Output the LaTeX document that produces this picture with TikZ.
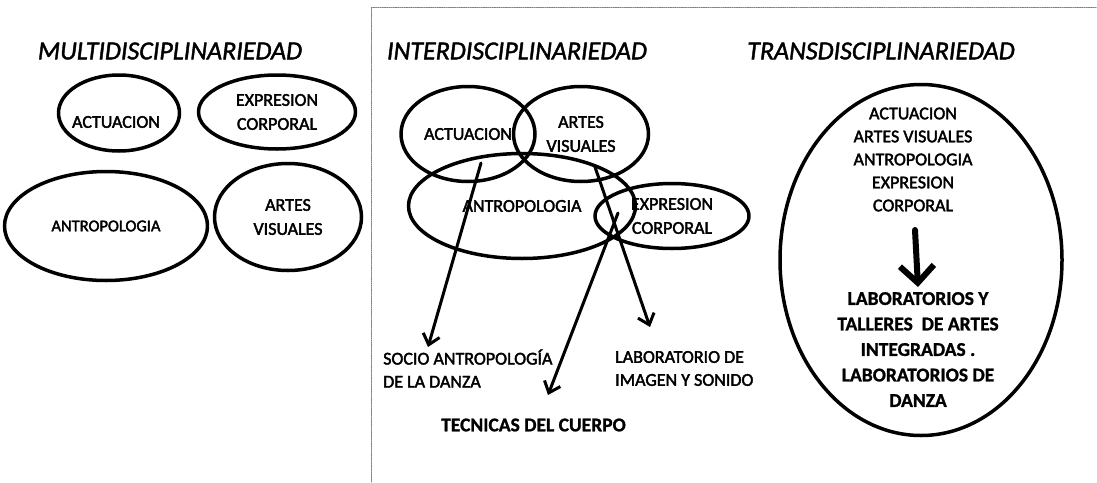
\documentclass[tikz,border=0pt]{standalone}
\usepackage{fontspec}
\setmainfont{Carlito}
\newfontfamily\semifont{Carlito}[FakeBold=2.2]
\newfontfamily\heavyfont{Carlito}[UprightFont=*-Bold,FakeBold=1.2]
\newfontfamily\titlefont{Carlito}[FakeBold=1.6,UprightFont=*-Italic]
\usetikzlibrary{shapes.geometric,arrows.meta}

\tikzset{
  ring/.style={draw,ellipse,line width=3.5pt,inner sep=0pt,align=center,font=\fontsize{18}{24}\semifont},
  lbl/.style={font=\fontsize{18}{23}\semifont,align=center,inner sep=0pt},
  boldlbl/.style={font=\fontsize{19.5}{25.5}\heavyfont,align=center,inner sep=0pt},
  ttl/.style={font=\fontsize{26}{30}\titlefont,inner sep=0pt},
  link/.style={line width=3pt,-{Straight Barb[length=10pt,width=17pt]}},
  bigarrow/.style={line width=6pt,-{Straight Barb[length=17pt,width=34pt]}},
}

\begin{document}
\begin{tikzpicture}[x=1pt,y=-1pt,line cap=round,line join=round]
\useasboundingbox (0,0) rectangle (1097,482);
% dotted frame round the two right panels
\draw[gray,line width=0.8pt,dash pattern=on 1.2pt off 1pt] (371,482) -- (371,7) -- (1097,7);

% titles
\node[ttl] (multi) at (170,51) {MULTIDISCIPLINARIEDAD};
\node[ttl] (inter) at (517,51) {INTERDISCIPLINARIEDAD};
\node[ttl] (trans) at (881,51) {TRANSDISCIPLINARIEDAD};

% multi: separate ellipses
\node[ring,minimum width=121pt,minimum height=76pt] (m-act) at (119,113) {};
\node[lbl] (m-act-t) at (116,122) {ACTUACION};
\node[ring,minimum width=157pt,minimum height=74pt] (m-exp) at (277,112) {EXPRESION\\CORPORAL};
\node[ring,minimum width=203pt,minimum height=109pt,font=\fontsize{16.5}{22}\semifont] (m-ant) at (106,226) {ANTROPOLOGIA};
\node[ring,minimum width=147pt,minimum height=107pt] (m-art) at (288,217) {ARTES\\VISUALES};

% inter: overlapping ellipses
\node[ring,minimum width=134pt,minimum height=95pt] (i-act) at (468,134) {ACTUACION};
\node[ring,minimum width=135pt,minimum height=95pt] (i-art) at (581,134) {ARTES\\VISUALES};
\node[ring,minimum width=227pt,minimum height=105pt] (i-ant) at (522,206) {ANTROPOLOGIA};
\node[ring,minimum width=154pt,minimum height=65pt] (i-exp) at (672,216) {EXPRESION\\CORPORAL};

\coordinate (s-act) at (481,163);
\coordinate (s-art) at (595,167);
\coordinate (s-exp) at (618,213);
\coordinate (e-soc) at (428,347);
\coordinate (e-lab) at (650,327);
\coordinate (e-tec) at (548,395);

\node[lbl,align=left,anchor=west] (socio) at (383,368.5) {SOCIO ANTROPOLOGÍA\\DE LA DANZA};
\node[lbl,align=left,anchor=west] (labor) at (615,368.5) {LABORATORIO DE\\IMAGEN Y SONIDO};
\node[boldlbl] (tecni) at (533.5,425) {TECNICAS DEL CUERPO};

\draw[link] (s-act) -- (e-soc);
\draw[link] (s-art) -- (e-lab);
\draw[link] (s-exp) -- (e-tec);

% trans: one big ellipse
\node[ring,minimum width=282pt,minimum height=351pt] (t-all) at (921,260) {};
\node[lbl] (t-src) at (913,159.5) {ACTUACION\\ARTES VISUALES\\ANTROPOLOGIA\\EXPRESION\\CORPORAL};
\node[boldlbl] (t-res) at (918,349.5) {LABORATORIOS Y\\TALLERES\ \ DE ARTES\\INTEGRADAS .\\LABORATORIOS DE\\DANZA};
\coordinate (t-from) at (915,230);
\coordinate (t-to) at (918,287);
\draw[bigarrow] (t-from) -- (t-to);
\end{tikzpicture}
\end{document}
